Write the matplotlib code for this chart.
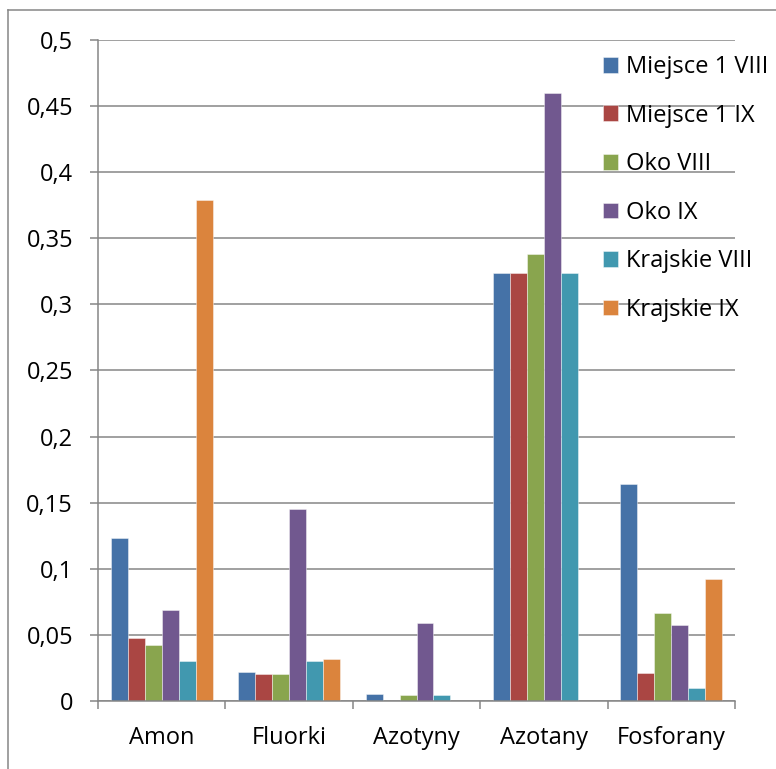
import matplotlib
matplotlib.use("Agg")
import matplotlib.pyplot as plt
from matplotlib.lines import Line2D
from matplotlib.ticker import FuncFormatter, MultipleLocator
import numpy as np

plt.rcParams['font.family'] = ['Open Sans', 'DejaVu Sans']

categories = ["Amon", "Fluorki", "Azotyny", "Azotany", "Fosforany"]
series_names = ["Miejsce 1 VIII", "Miejsce 1 IX", "Oko VIII", "Oko IX",
                "Krajskie VIII", "Krajskie IX"]
miejsce_viii = [0.123, 0.022, 0.005, 0.324, 0.164]
miejsce_ix = [0.048, 0.0205, 0.0, 0.324, 0.0215]
oko_viii = [0.0425, 0.0205, 0.0045, 0.3385, 0.0665]
oko_ix = [0.069, 0.145, 0.059, 0.460, 0.0575]
krajskie_viii = [0.030, 0.0305, 0.0045, 0.324, 0.0095]
krajskie_ix = [0.379, 0.032, 0.0, 0.0, 0.092]
colors = ["#4572A7", "#AA4643", "#89A54E", "#71588F", "#4198AF", "#DB843D"]

values = [miejsce_viii, miejsce_ix, oko_viii, oko_ix, krajskie_viii, krajskie_ix]

W, H = 776, 769
FS = 17
fig = plt.figure(figsize=(W / 100, H / 100), dpi=100)
ax = fig.add_axes([98 / W, 1 - 701 / H, (735 - 98) / W, (701 - 40) / H])

grid_col = "#868686"
n = len(values)
bw = 1 / (n + 1.5)
x = np.arange(len(categories))
for i, (name, vals, c) in enumerate(zip(series_names, values, colors)):
    ax.bar(x + (i - (n - 1) / 2) * bw, vals, width=bw, color=c, label=name,
           edgecolor=(1, 1, 1, 0.5), linewidth=0.6, zorder=3)

ax.set_xlim(-0.5, len(categories) - 0.5)
ax.set_ylim(0, 0.5)
ax.yaxis.set_major_locator(MultipleLocator(0.05))
ax.yaxis.set_major_formatter(FuncFormatter(
    lambda v, p: "0" if abs(v) < 1e-9 else f"{v:.2f}".rstrip("0").replace(".", ",")))
ax.set_xticks(x)
ax.set_xticklabels(categories)
ax.set_xticks(np.arange(len(categories) + 1) - 0.5, minor=True)

ax.grid(axis="y", color=grid_col, linewidth=1.1, zorder=0)
for s in ["top", "right"]:
    ax.spines[s].set_visible(False)
for s in ["left", "bottom"]:
    ax.spines[s].set_color(grid_col)
    ax.spines[s].set_linewidth(1.1)
    ax.spines[s].set_zorder(4)

ax.tick_params(axis="y", length=6, width=1.1, color=grid_col, pad=12,
               labelsize=FS)
ax.tick_params(axis="x", which="major", length=0, pad=18, labelsize=FS)
ax.tick_params(axis="x", which="minor", length=6, width=1.1, color=grid_col)

leg = ax.legend(loc="upper left", bbox_to_anchor=(603 / W, 1 - 55 / H),
                bbox_transform=fig.transFigure, frameon=False, fontsize=FS,
                handlelength=0.64, handleheight=0.64, handletextpad=0.34,
                labelspacing=1.04, borderpad=0, borderaxespad=0)

# outer chart border (left and top edges)
fig.add_artist(Line2D([8 / W, 8 / W], [0, 1 - 9.5 / H], transform=fig.transFigure,
                      color=grid_col, linewidth=1.1))
fig.add_artist(Line2D([8 / W, 1], [1 - 9.5 / H, 1 - 9.5 / H],
                      transform=fig.transFigure, color=grid_col, linewidth=1.1))

fig.savefig("out.png", dpi=100)
